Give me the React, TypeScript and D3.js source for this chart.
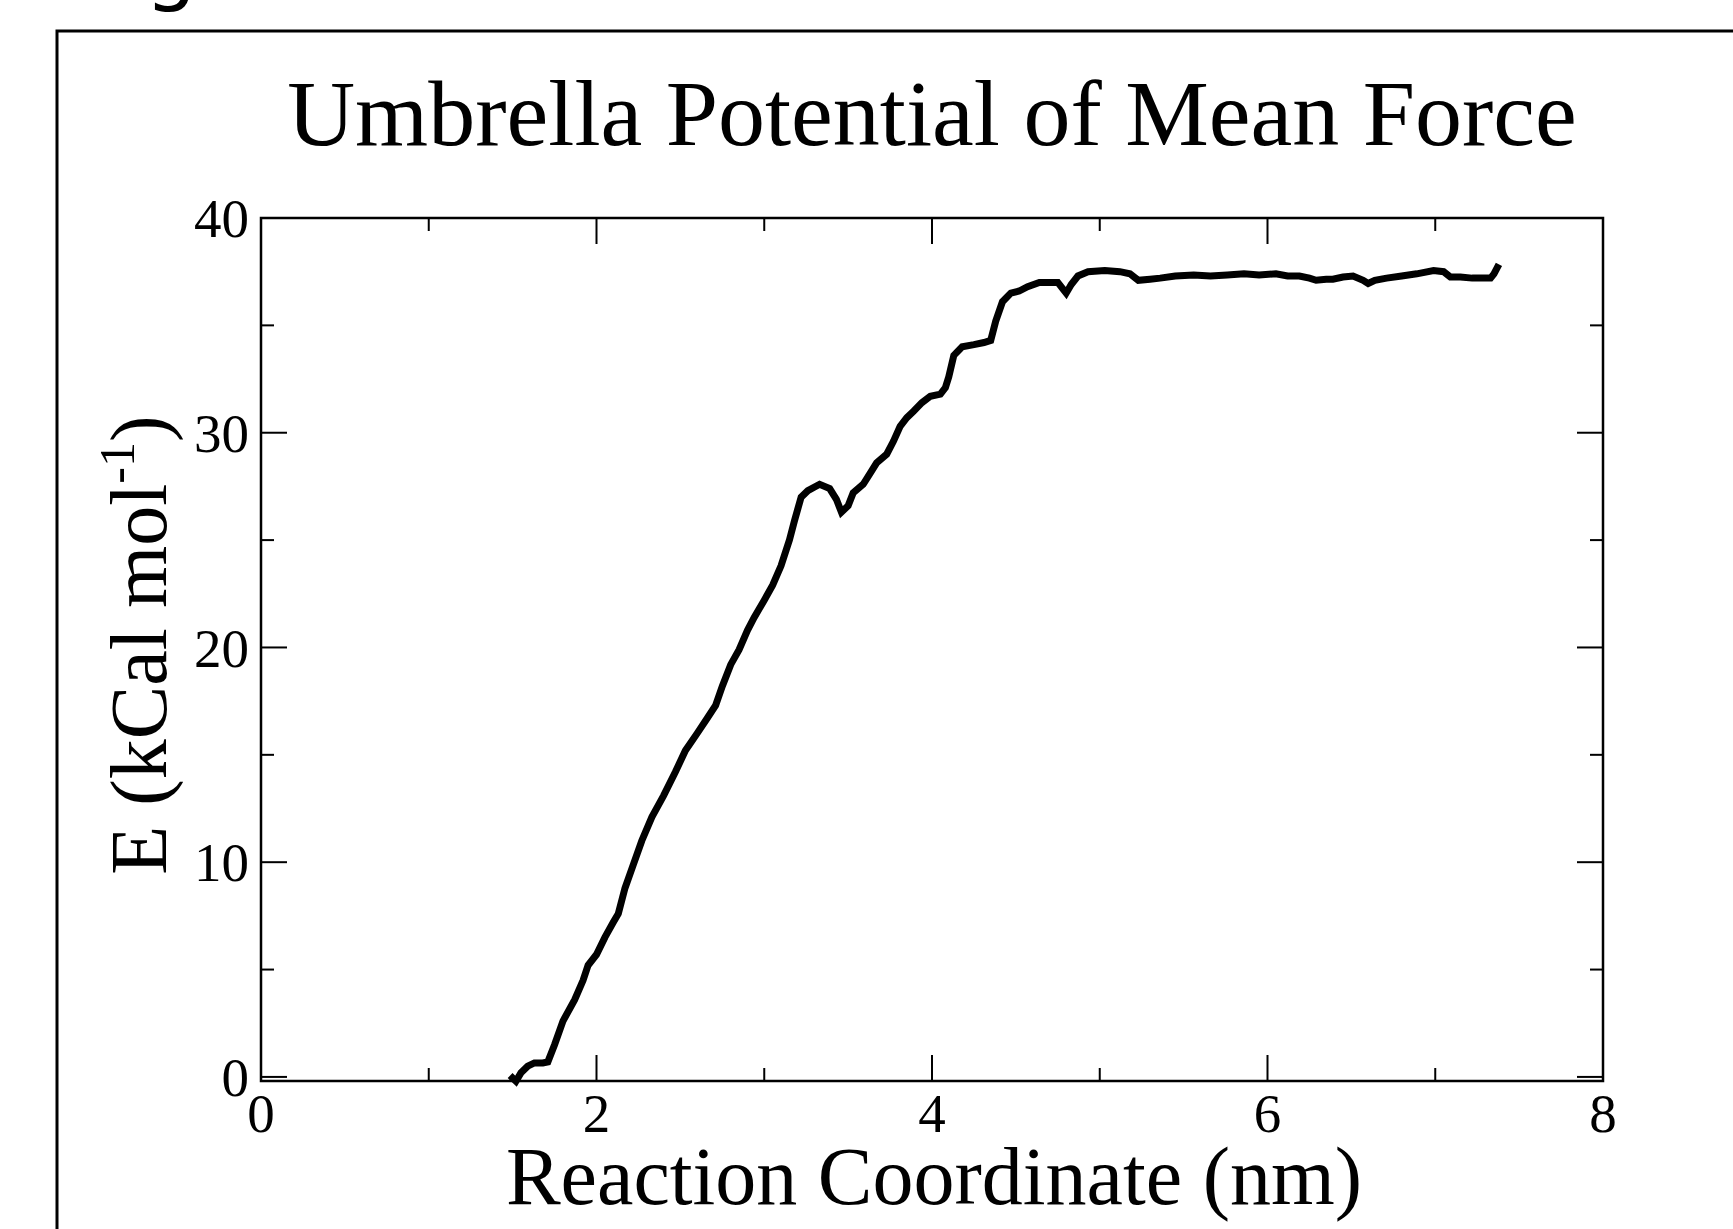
import React from "react";
import * as d3 from "d3";

const W = 1733;
const H = 1229;

const titleText = "Umbrella Potential of Mean Force";
const xLabelText = "Reaction Coordinate (nm)";
const yLabelMain = "E (kCal mol";
const yLabelSup = "-1";

const xMajorTicks = [0, 2, 4, 6, 8];
const xMinorTicks = [1, 3, 5, 7];
const yMajorTicks = [0, 10, 20, 30, 40];
const yMinorTicks = [5, 15, 25, 35];

const rc = [
  1.50, 1.52, 1.55, 1.59, 1.63, 1.68, 1.71, 1.75, 1.80, 1.87, 1.92, 1.95, 2.00, 2.05, 2.10, 2.13,
  2.17, 2.22, 2.27, 2.33, 2.40, 2.47, 2.53, 2.60, 2.66, 2.71, 2.75, 2.80, 2.85, 2.90, 2.94, 3.00,
  3.05, 3.10, 3.15, 3.18, 3.22, 3.26, 3.33, 3.39, 3.43, 3.46, 3.50, 3.53, 3.59, 3.63, 3.67, 3.73,
  3.77, 3.81, 3.85, 3.89, 3.94, 3.99, 4.05, 4.08, 4.10, 4.13, 4.18, 4.25, 4.31, 4.35, 4.38, 4.42,
  4.47, 4.52, 4.57, 4.64, 4.70, 4.75, 4.78, 4.80, 4.83, 4.87, 4.93, 5.03, 5.12, 5.18, 5.23, 5.30,
  5.36, 5.45, 5.56, 5.66, 5.76, 5.86, 5.95, 6.05, 6.12, 6.19, 6.25, 6.29, 6.35, 6.39, 6.45, 6.51,
  6.57, 6.60, 6.64, 6.71, 6.80, 6.89, 6.99, 7.05, 7.09, 7.15, 7.22, 7.28, 7.33, 7.35, 7.37,
];

const energy = [
  -0.05, -0.2, 0.2, 0.5, 0.65, 0.65, 0.7, 1.5, 2.6, 3.6, 4.5, 5.2, 5.7, 6.5, 7.2, 7.6,
  8.8, 9.9, 11.0, 12.1, 13.1, 14.2, 15.2, 16.0, 16.7, 17.3, 18.2, 19.2, 19.9, 20.8, 21.4, 22.2,
  22.9, 23.8, 25.0, 25.9, 27.0, 27.3, 27.6, 27.4, 26.9, 26.3, 26.6, 27.2, 27.6, 28.1, 28.6, 29.0,
  29.6, 30.3, 30.7, 31.0, 31.4, 31.7, 31.8, 32.1, 32.6, 33.6, 34.0, 34.1, 34.2, 34.3, 35.2, 36.1,
  36.5, 36.6, 36.8, 37.0, 37.0, 37.0, 36.7, 36.5, 36.9, 37.3, 37.5, 37.55, 37.5, 37.4, 37.1, 37.15,
  37.2, 37.3, 37.35, 37.3, 37.35, 37.4, 37.35, 37.4, 37.3, 37.3, 37.2, 37.1, 37.15, 37.15, 37.25, 37.3,
  37.1, 36.95, 37.1, 37.2, 37.3, 37.4, 37.55, 37.5, 37.25, 37.25, 37.2, 37.2, 37.2, 37.4, 37.7,
];

const plot = { left: 261, right: 1603, top: 218, bottom: 1081 };
const serif = "'Liberation Serif', 'Times New Roman', serif";

export default function App() {
  const x = d3.scaleLinear().domain([0, 8]).range([plot.left, plot.right]);
  const y = d3.scaleLinear().domain([-0.19, 40]).range([plot.bottom, plot.top]);

  const pts = rc.map((v, i) => [v, energy[i]] as [number, number]);
  const line = d3
    .line<[number, number]>()
    .x((d) => x(d[0]))
    .y((d) => y(d[1]));

  const major = 26;
  const minor = 13;
  const tickStroke = 2;

  return (
    <svg
      width={W}
      height={H}
      style={{ position: "absolute", left: 0, top: 0, background: "#fff" }}
    >
      <rect x={0} y={0} width={W} height={H} fill="#fff" />
      {/* partial heading glyph at top */}
      <text x={145} y={-5} fontFamily="'DejaVu Sans', sans-serif" fontSize={82} fill="#000">
        g
      </text>
      {/* outer frame */}
      <rect x={57} y={31} width={W + 20} height={H + 20} fill="none" stroke="#000" strokeWidth={3} />

      {/* title */}
      <text x={932} y={145} textAnchor="middle" fontFamily={serif} fontSize={94} fill="#000">
        {titleText}
      </text>

      {/* data line */}
      <path
        d={line(pts) || ""}
        fill="none"
        stroke="#000"
        strokeWidth={7}
        strokeLinejoin="miter"
        strokeLinecap="square"
      />

      {/* axes box */}
      <rect
        x={plot.left}
        y={plot.top}
        width={plot.right - plot.left}
        height={plot.bottom - plot.top}
        fill="none"
        stroke="#000"
        strokeWidth={2.5}
      />

      {/* x ticks bottom & top */}
      {xMajorTicks.map((t) => (
        <g key={"xM" + t}>
          <line x1={x(t)} x2={x(t)} y1={plot.bottom} y2={plot.bottom - major} stroke="#000" strokeWidth={tickStroke} />
          <line x1={x(t)} x2={x(t)} y1={plot.top} y2={plot.top + major} stroke="#000" strokeWidth={tickStroke} />
          <text x={x(t)} y={1132} textAnchor="middle" fontFamily={serif} fontSize={55} fill="#000">
            {t}
          </text>
        </g>
      ))}
      {xMinorTicks.map((t) => (
        <g key={"xm" + t}>
          <line x1={x(t)} x2={x(t)} y1={plot.bottom} y2={plot.bottom - minor} stroke="#000" strokeWidth={tickStroke} />
          <line x1={x(t)} x2={x(t)} y1={plot.top} y2={plot.top + minor} stroke="#000" strokeWidth={tickStroke} />
        </g>
      ))}

      {/* y ticks left & right */}
      {yMajorTicks.map((t) => (
        <g key={"yM" + t}>
          <line x1={plot.left} x2={plot.left + major} y1={y(t)} y2={y(t)} stroke="#000" strokeWidth={tickStroke} />
          <line x1={plot.right} x2={plot.right - major} y1={y(t)} y2={y(t)} stroke="#000" strokeWidth={tickStroke} />
          <text
            x={249}
            y={y(t)}
            dy="0.35em"
            textAnchor="end"
            fontFamily={serif}
            fontSize={55}
            fill="#000"
          >
            {t}
          </text>
        </g>
      ))}
      {yMinorTicks.map((t) => (
        <g key={"ym" + t}>
          <line x1={plot.left} x2={plot.left + minor} y1={y(t)} y2={y(t)} stroke="#000" strokeWidth={tickStroke} />
          <line x1={plot.right} x2={plot.right - minor} y1={y(t)} y2={y(t)} stroke="#000" strokeWidth={tickStroke} />
        </g>
      ))}

      {/* x label */}
      <text x={934} y={1204} textAnchor="middle" fontFamily={serif} fontSize={82} fill="#000">
        {xLabelText}
      </text>

      {/* y label */}
      <text
        transform="translate(166,645) rotate(-90)"
        textAnchor="middle"
        fontFamily={serif}
        fontSize={80}
        fill="#000"
      >
        {yLabelMain}
        <tspan dy={-32} fontSize={50}>
          {yLabelSup}
        </tspan>
        <tspan dy={32}>)</tspan>
      </text>
    </svg>
  );
}
